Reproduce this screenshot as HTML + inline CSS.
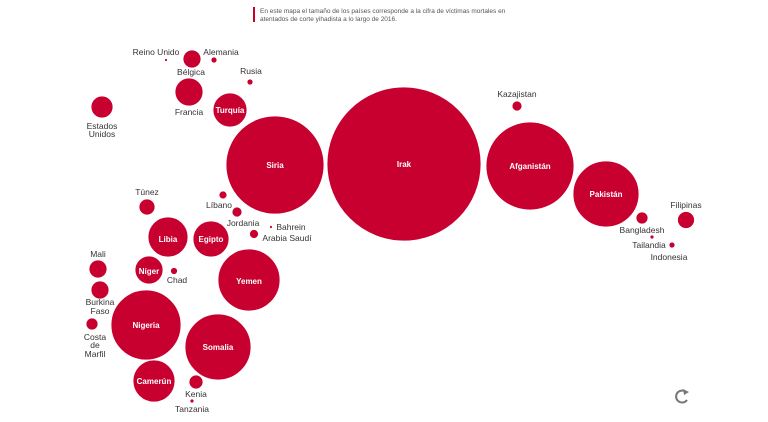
<!DOCTYPE html>
<html><head><meta charset="utf-8"><style>
html,body{margin:0;padding:0;background:#fff;}
svg{display:block;font-family:"Liberation Sans",sans-serif;}
.l{font-size:8.5px;fill:#333;text-anchor:middle;}
.w{font-size:8px;fill:#fff;font-weight:bold;text-anchor:middle;}
</style></head><body>
<svg width="768" height="422" viewBox="0 0 768 422">
<rect x="253" y="7" width="2" height="15" fill="#c8002f"/>
<text x="260" y="13" font-size="6.5" fill="#555">En este mapa el tamaño de los países corresponde a la cifra de víctimas mortales en</text>
<text x="260" y="21" font-size="6.5" fill="#555">atentados de corte yihadista a lo largo de 2016.</text>
<g fill="#c8002f" stroke="#fff" stroke-width="0.8">
<circle cx="404" cy="164" r="77"/>
<circle cx="530" cy="166" r="44"/>
<circle cx="606" cy="194" r="33"/>
<circle cx="517" cy="106" r="5"/>
<circle cx="642" cy="218" r="6"/>
<circle cx="686" cy="220" r="8.5"/>
<circle cx="652" cy="237" r="2"/>
<circle cx="672" cy="245" r="3"/>
<circle cx="166" cy="60" r="1.5"/>
<circle cx="192" cy="59" r="9"/>
<circle cx="214" cy="60" r="3"/>
<circle cx="250" cy="82" r="3"/>
<circle cx="189" cy="92" r="14"/>
<circle cx="230" cy="110" r="17"/>
<circle cx="102" cy="107" r="11"/>
<circle cx="275" cy="165" r="49"/>
<circle cx="147" cy="207" r="8"/>
<circle cx="223" cy="195" r="4"/>
<circle cx="237" cy="212" r="5"/>
<circle cx="271" cy="227" r="1.5"/>
<circle cx="254" cy="234" r="4.5"/>
<circle cx="168" cy="237" r="20"/>
<circle cx="211" cy="239" r="18"/>
<circle cx="249" cy="280" r="31"/>
<circle cx="149" cy="270" r="14"/>
<circle cx="174" cy="271" r="3.5"/>
<circle cx="98" cy="269" r="9"/>
<circle cx="100" cy="290" r="9"/>
<circle cx="92" cy="324" r="6"/>
<circle cx="146" cy="325" r="35"/>
<circle cx="218" cy="347" r="33"/>
<circle cx="154" cy="381" r="21"/>
<circle cx="196" cy="382" r="7"/>
<circle cx="192" cy="401" r="2"/>
</g>
<text class="w" x="404" y="167">Irak</text>
<text class="w" x="530" y="169">Afganistán</text>
<text class="w" x="606" y="197">Pakistán</text>
<text class="w" x="275" y="168">Siria</text>
<text class="w" x="230" y="113">Turquía</text>
<text class="w" x="168" y="242">Libia</text>
<text class="w" x="211" y="242">Egipto</text>
<text class="w" x="249" y="284">Yemen</text>
<text class="w" x="149" y="274">Níger</text>
<text class="w" x="146" y="328">Nigeria</text>
<text class="w" x="218" y="350">Somalia</text>
<text class="w" x="154" y="384">Camerún</text>
<text class="l" x="517" y="97">Kazajistan</text>
<text class="l" x="642" y="233">Bangladesh</text>
<text class="l" x="686" y="208">Filipinas</text>
<text class="l" x="649" y="248">Tailandia</text>
<text class="l" x="669" y="260">Indonesia</text>
<text class="l" x="156" y="55">Reino Unido</text>
<text class="l" x="191" y="75">Bélgica</text>
<text class="l" x="221" y="55">Alemania</text>
<text class="l" x="251" y="74">Rusia</text>
<text class="l" x="189" y="115">Francia</text>
<text class="l" x="102" y="129">Estados</text>
<text class="l" x="102" y="137">Unidos</text>
<text class="l" x="147" y="195">Túnez</text>
<text class="l" x="219" y="208">Líbano</text>
<text class="l" x="243" y="226">Jordania</text>
<text class="l" x="291" y="230">Bahrein</text>
<text class="l" x="287" y="241">Arabia Saudí</text>
<text class="l" x="177" y="283">Chad</text>
<text class="l" x="98" y="257">Mali</text>
<text class="l" x="100" y="305" font-size="7.5">Burkina</text>
<text class="l" x="100" y="314" font-size="7.5">Faso</text>
<text class="l" x="95" y="340" font-size="7.5">Costa</text>
<text class="l" x="95" y="348" font-size="7.5">de</text>
<text class="l" x="95" y="357" font-size="7.5">Marfil</text>
<text class="l" x="196" y="397">Kenia</text>
<text class="l" x="192" y="412">Tanzania</text>
<path d="M686 392 A6 6 0 1 0 687 400" fill="none" stroke="#777" stroke-width="2"/>
<polygon points="683,389 689,392 684,395" fill="#777"/>
</svg>
</body></html>
